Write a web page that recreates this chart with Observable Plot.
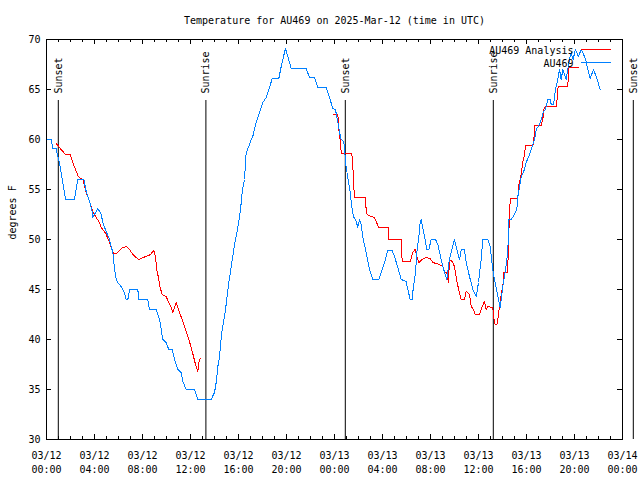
<!DOCTYPE html>
<html><head><meta charset="utf-8">
<script src="https://cdn.jsdelivr.net/npm/d3@7"></script>
<script src="https://cdn.jsdelivr.net/npm/@observablehq/plot@0.6"></script>
<style>
html,body{margin:0;padding:0;background:#fff;}
</style></head>
<body><div id="chart"></div>
<script>
const titleText = "Temperature for AU469 on 2025-Mar-12 (time in UTC)";
const yLabelText = "degrees F";
const startUTC = Date.UTC(2025, 2, 12, 0, 0);
const endUTC = Date.UTC(2025, 2, 14, 0, 0);
const seriesNames = ["AU469 Analysis", "AU469"];
const seriesColors = ["#ff0000", "#0080ff"];
const yTicks = [30, 35, 40, 45, 50, 55, 60, 65, 70];
const sunLabels = ["Sunset", "Sunrise", "Sunset", "Sunrise", "Sunset"];
const sunTimes = ["2025-03-12T00:59Z", "2025-03-12T13:17Z", "2025-03-13T00:54Z", "2025-03-13T13:14Z", "2025-03-14T00:54Z"];

// observed AU469 (hours after 2025-03-12 00:00 UTC)
const obsHours = [0.0,0.4,0.53,0.8,0.94,1.08,1.22,1.36,1.5,1.58,2.33,2.47,2.61,3.11,3.31,3.58,3.78,3.86,4.0,4.28,4.56,4.69,4.97,5.25,5.39,5.53,5.67,5.81,5.94,6.22,6.5,6.64,6.78,6.92,7.61,7.69,8.44,8.58,9.14,9.42,9.56,9.69,9.97,10.19,10.47,10.67,10.94,11.22,11.36,11.64,12.33,12.61,13.72,14.0,14.14,14.28,14.42,14.58,14.92,15.17,15.42,15.67,15.92,16.17,16.33,16.5,16.64,16.86,17.06,17.19,17.47,17.75,18.03,18.31,18.53,18.81,19.36,19.56,19.75,19.92,20.11,20.39,21.64,21.92,22.33,22.61,23.31,23.58,23.86,24.08,24.28,24.42,24.56,24.75,24.83,24.92,25.03,25.17,25.31,25.44,25.58,25.81,25.94,26.08,26.22,26.36,26.64,26.92,27.19,27.69,27.89,28.17,28.44,28.81,29.0,29.28,29.56,29.97,30.11,30.31,30.46,30.58,30.75,30.86,31.03,31.14,31.22,31.5,31.69,31.86,32.06,32.42,32.61,32.89,33.17,33.36,33.53,33.72,34.0,34.19,34.42,34.56,34.83,34.97,35.25,35.53,35.81,36.0,36.22,36.36,36.78,36.97,37.19,37.33,37.61,37.81,38.03,38.25,38.44,38.53,38.72,39.0,39.19,39.28,39.42,39.56,39.83,39.97,40.19,40.39,40.67,40.81,41.08,41.22,41.42,41.58,41.78,41.97,42.06,42.25,42.42,42.61,42.75,42.89,43.03,43.31,43.44,43.58,43.72,43.88,44.08,44.33,44.56,44.83,44.97,45.11,45.31,45.58,45.81,46.14];
const obsTemps = [60.0,60.0,59.1,59.1,58.3,57.7,56.7,55.7,54.7,54.0,54.0,55.0,56.0,56.0,54.8,53.8,53.0,52.2,52.5,53.1,52.5,51.7,50.8,50.0,49.3,48.7,47.0,46.0,45.7,45.3,44.7,44.0,44.0,45.0,45.0,44.0,44.0,43.0,43.0,42.0,41.0,40.0,39.7,39.0,39.0,38.0,37.0,36.7,35.8,35.0,35.0,34.0,34.0,34.7,35.7,37.3,38.3,40.5,43.0,45.5,47.5,49.5,51.0,53.0,55.0,56.0,58.7,59.3,60.0,60.3,61.7,62.7,63.7,64.2,65.0,66.1,66.1,67.3,68.3,69.1,68.3,67.1,67.1,66.2,66.2,65.2,65.2,64.2,63.1,63.0,61.7,60.7,60.0,59.8,59.3,57.7,56.8,55.7,54.7,53.3,52.3,51.8,51.2,52.0,51.5,50.2,48.7,47.0,46.0,46.0,46.7,47.7,48.9,48.9,48.3,47.2,46.0,45.8,45.0,44.0,44.0,45.3,46.7,48.7,50.3,51.7,52.0,50.3,49.0,49.0,50.0,50.0,49.5,48.0,46.7,46.0,47.7,48.7,50.0,49.0,48.0,49.0,49.0,47.7,46.3,45.0,44.3,45.7,48.0,50.0,50.0,49.3,47.0,46.0,44.3,43.2,45.3,47.0,48.7,52.0,52.0,52.5,53.0,54.3,55.3,56.3,57.0,57.7,58.3,59.0,60.0,61.0,61.5,62.0,62.8,63.0,64.0,64.0,63.5,63.5,65.0,66.0,67.0,66.0,67.0,66.0,67.0,68.0,68.7,68.0,69.0,68.3,69.0,68.3,67.8,67.0,66.1,67.0,66.3,65.0];

// analysis (null = gap in the series)
const anaHours = [0.81,1.22,1.58,1.97,2.19,2.42,2.61,2.75,3.03,3.31,3.53,3.72,3.86,4.14,4.42,4.56,4.83,4.97,5.25,5.39,5.58,5.81,6.08,6.36,6.69,6.92,7.19,7.47,7.69,8.03,8.31,8.67,8.94,9.08,9.19,9.36,9.47,9.64,9.97,10.19,10.39,10.53,10.81,11.08,11.31,11.5,11.86,12.06,12.25,12.42,12.61,12.69,12.81,null,23.92,24.28,24.36,24.5,24.56,25.44,25.53,25.61,25.67,26.56,26.64,26.72,27.06,27.33,27.47,27.69,28.5,28.53,29.56,29.64,30.31,30.53,30.72,30.86,31.03,31.31,31.64,31.97,32.19,32.75,33.03,33.17,33.36,33.5,33.58,33.81,34.0,34.19,34.56,34.83,34.97,35.25,35.39,35.58,35.72,36.08,36.31,36.5,36.64,36.78,37.19,37.25,37.39,37.53,37.61,37.75,37.89,38.03,38.11,38.44,38.5,38.58,38.64,39.28,39.33,39.56,39.69,39.83,39.92,40.53,40.61,40.69,41.22,41.36,41.44,41.58,42.47,42.53,42.64,43.44,43.53,44.36];
const anaTemps = [59.6,59.0,58.5,58.5,57.7,57.0,56.4,56.2,56.0,54.7,54.0,53.3,52.8,52.2,51.7,51.2,50.8,50.5,49.7,49.2,48.6,48.6,48.9,49.2,49.3,49.0,48.5,48.2,48.0,48.2,48.3,48.5,48.9,48.3,47.0,46.0,45.2,44.5,44.3,43.7,43.2,42.7,43.7,42.7,42.0,41.3,40.0,39.2,38.3,37.5,36.8,37.7,38.1,null,62.5,62.5,61.0,59.7,58.6,58.6,57.3,55.2,54.2,54.2,53.0,52.5,52.3,52.2,51.8,51.2,51.2,50.0,50.0,47.8,47.8,48.7,49.0,48.3,47.7,48.0,48.2,48.1,47.7,47.5,47.3,46.7,46.7,45.7,48.0,47.8,47.3,45.8,44.0,44.0,44.8,44.5,43.3,43.0,42.5,42.5,43.3,43.8,43.0,43.3,43.2,42.3,41.5,41.5,42.0,43.3,44.5,45.3,46.7,46.7,50.5,51.8,54.1,54.1,55.3,56.5,57.7,58.5,59.4,59.4,60.0,61.4,61.4,62.0,63.0,63.3,63.3,63.8,65.3,65.3,67.2,67.2];

const toDate = h => h == null ? null : new Date(startUTC + h * 3600e3);
const obs = obsHours.map((h, i) => ({t: toDate(h), v: obsTemps[i]}));
const ana = anaHours.map((h, i) => ({t: toDate(h), v: anaTemps[i]}));
const sun = sunLabels.map((l, i) => ({label: l, t: new Date(sunTimes[i])}));
const allHours = d3.utcHour.range(new Date(startUTC), new Date(endUTC + 1));
const majorTicks = allHours.filter(d => d.getUTCHours() % 4 === 0);
const minorTicks = allHours.filter(d => d.getUTCHours() % 4 !== 0);

const W = 640, H = 480, mL = 46, mR = 18, mT = 39, mB = 41;
const iW = W - mL - mR, iH = H - mT - mB;
const font = "'DejaVu Sans Mono', 'Liberation Mono', monospace";

const chart = Plot.plot({
  width: W, height: H,
  marginLeft: mL, marginRight: mR, marginTop: mT, marginBottom: mB,
  style: {fontFamily: font, fontSize: "10px", background: "#fff", color: "#000"},
  x: {type: "utc", domain: [new Date(startUTC), new Date(endUTC)]},
  y: {domain: [30, 70]},
  marks: [
    Plot.axisY({ticks: yTicks, tickSize: 0, tickPadding: 6, label: null, tickFormat: d => String(d)}),
    Plot.axisX({ticks: majorTicks, tickSize: 0, tickPadding: 10, label: null, lineHeight: 1.4,
      tickFormat: d3.utcFormat("%m/%d\n%H:%M")}),
    Plot.ruleY(yTicks, {y: d => d, insetRight: iW - 5, stroke: "#000"}),
    Plot.ruleY(yTicks, {y: d => d, insetLeft: iW - 5, stroke: "#000"}),
    Plot.ruleX(majorTicks, {x: d => d, insetTop: iH - 5, stroke: "#000"}),
    Plot.ruleX(majorTicks, {x: d => d, insetBottom: iH - 5, stroke: "#000"}),
    Plot.ruleX(minorTicks, {x: d => d, insetTop: iH - 3, stroke: "#000"}),
    Plot.ruleX(minorTicks, {x: d => d, insetBottom: iH - 3, stroke: "#000"}),
    Plot.ruleX(sun, {x: "t", insetTop: 61, stroke: "#000", clip: false}),
    Plot.text(sun, {x: "t", text: "label", frameAnchor: "top", dy: 54, rotate: -90,
      textAnchor: "start", lineAnchor: "middle", fill: "#000", clip: false}),
    Plot.line(ana, {x: "t", y: "v", stroke: seriesColors[0], strokeWidth: 1, shapeRendering: "crispEdges"}),
    Plot.line(obs, {x: "t", y: "v", stroke: seriesColors[1], strokeWidth: 1, shapeRendering: "crispEdges"}),
    Plot.text([seriesNames[0]], {frameAnchor: "top-right", dx: -49, dy: 11, textAnchor: "end", lineAnchor: "middle", fill: "#000"}),
    Plot.text([seriesNames[1]], {frameAnchor: "top-right", dx: -49, dy: 24, textAnchor: "end", lineAnchor: "middle", fill: "#000"}),
    Plot.frame({anchor: "top", stroke: seriesColors[0], insetTop: 10, insetLeft: 535, insetRight: 12}),
    Plot.frame({anchor: "top", stroke: seriesColors[1], insetTop: 23, insetLeft: 535, insetRight: 12}),
    Plot.frame({stroke: "#000"}),
    Plot.text([titleText], {frameAnchor: "top", dy: -19, lineAnchor: "middle", fill: "#000"}),
    Plot.text([yLabelText], {frameAnchor: "left", dx: -34, rotate: -90, lineAnchor: "middle", fill: "#000"})
  ]
});
document.getElementById("chart").appendChild(chart);
</script>
</body></html>
